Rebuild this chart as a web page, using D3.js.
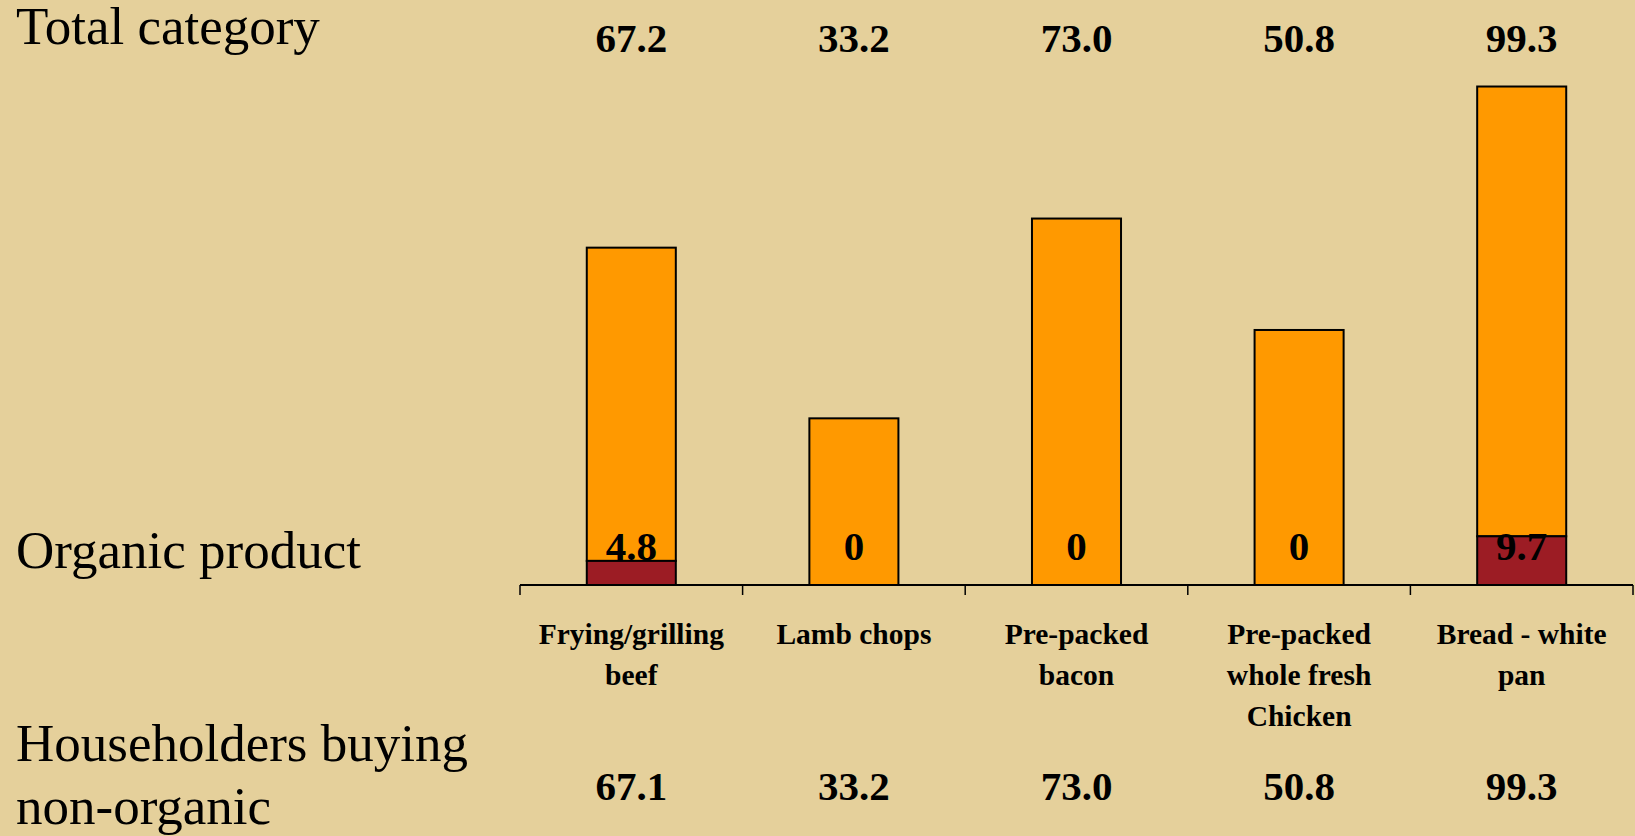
<!DOCTYPE html>
<html>
<head>
<meta charset="utf-8">
<script src="https://cdn.jsdelivr.net/npm/d3@7"></script>
<style>
  html, body { margin: 0; padding: 0; background: #E5D09B; }
  svg { display: block; }
</style>
</head>
<body>
<svg id="chart" width="1635" height="836"></svg>
<script>
// Product categories (lines of each axis label)
const categories = [
  ["Frying/grilling", "beef"],
  ["Lamb chops"],
  ["Pre-packed", "bacon"],
  ["Pre-packed", "whole fresh", "Chicken"],
  ["Bread - white", "pan"]
];
const categoryKeys = categories.map(c => c.join(" "));

// Percentage of householders buying
const totalValues      = [67.2, 33.2, 73.0, 50.8, 99.3];
const organicValues    = [4.8, 0, 0, 0, 9.7];
const nonOrganicValues = [67.1, 33.2, 73.0, 50.8, 99.3];

const rowLabels = {
  total: ["Total category"],
  organic: ["Organic product"],
  nonOrganic: ["Householders buying", "non-organic"]
};

const colors = { bg: "#E5D09B", total: "#FF9900", organic: "#9C1C24" };

const svg = d3.select("#chart");
const serif = "'Liberation Serif', 'Times New Roman', serif";

const x = d3.scaleBand()
  .domain(categoryKeys)
  .range([520, 1633])
  .paddingInner(0.6)
  .paddingOuter(0.3);

const y = d3.scaleLinear().domain([0, 100]).range([585, 83]);

const cx = k => x(k) + x.bandwidth() / 2;

// Stacked segments: organic share at the bottom, rest of the category on top
const segments = categoryKeys.flatMap((k, i) => [
  { key: k, y0: organicValues[i], y1: totalValues[i], fill: colors.total },
  { key: k, y0: 0, y1: organicValues[i], fill: colors.organic }
]);

svg.append("g").selectAll("rect")
  .data(segments.filter(s => s.y1 > s.y0))
  .join("rect")
  .attr("x", d => x(d.key))
  .attr("width", x.bandwidth())
  .attr("y", d => y(d.y1))
  .attr("height", d => y(d.y0) - y(d.y1))
  .attr("fill", d => d.fill)
  .attr("stroke", "#000")
  .attr("stroke-width", 2);

// Category axis with ticks on the slot boundaries
const axisY = y(0);
const boundaries = categoryKeys.map(k => cx(k) - x.step() / 2);
boundaries.push(boundaries[boundaries.length - 1] + x.step());

const axis = svg.append("g");
axis.append("line")
  .attr("x1", boundaries[0]).attr("x2", boundaries[boundaries.length - 1])
  .attr("y1", axisY).attr("y2", axisY)
  .attr("stroke", "#000").attr("stroke-width", 2);
axis.selectAll("line.tick")
  .data(boundaries)
  .join("line")
  .attr("class", "tick")
  .attr("x1", d => d).attr("x2", d => d)
  .attr("y1", axisY).attr("y2", axisY + 10)
  .attr("stroke", "#000").attr("stroke-width", 1.5);

// Category labels
const catText = svg.append("g").selectAll("text")
  .data(categories)
  .join("text")
  .attr("text-anchor", "middle")
  .attr("font-family", serif)
  .attr("font-weight", "bold")
  .attr("font-size", 29.5)
  .attr("fill", "#000");
catText.each(function (lines, i) {
  d3.select(this).selectAll("tspan")
    .data(lines)
    .join("tspan")
    .attr("x", cx(categoryKeys[i]))
    .attr("y", (d, j) => axisY + 59 + j * 41)
    .text(d => d);
});

// Value rows
const fmt = v => (v === 0 ? "0" : v.toFixed(1));
function valueRow(values, baseline) {
  svg.append("g").selectAll("text")
    .data(values)
    .join("text")
    .attr("x", (d, i) => cx(categoryKeys[i]))
    .attr("y", baseline)
    .attr("text-anchor", "middle")
    .attr("font-family", serif)
    .attr("font-weight", "bold")
    .attr("font-size", 41)
    .attr("fill", "#000")
    .text(fmt);
}
valueRow(totalValues, 51.5);
valueRow(organicValues, axisY - 25);
valueRow(nonOrganicValues, 800);

// Row headings on the left
function rowHeading(lines, baseline) {
  const t = svg.append("text")
    .attr("font-family", serif)
    .attr("font-size", 53)
    .attr("fill", "#000");
  t.selectAll("tspan")
    .data(lines)
    .join("tspan")
    .attr("x", 16)
    .attr("y", (d, j) => baseline + j * 62.5)
    .text(d => d);
}
rowHeading(rowLabels.total, 43.5);
rowHeading(rowLabels.organic, 568);
rowHeading(rowLabels.nonOrganic, 761);
</script>
</body>
</html>
